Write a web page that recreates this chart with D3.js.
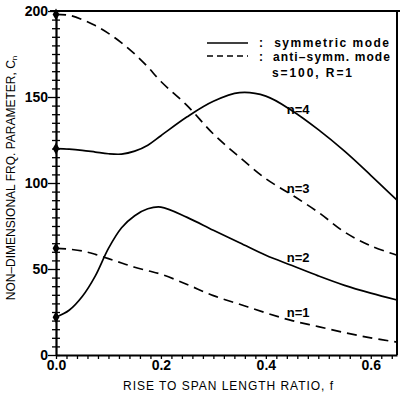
<!DOCTYPE html>
<html>
<head>
<meta charset="utf-8">
<script src="https://cdn.jsdelivr.net/npm/d3@7"></script>
<style>
  body { margin: 0; background: #fff; }
  svg { display: block; font-family: "Liberation Sans", Arial, sans-serif; }
  .tick-label { font-size: 14px; font-weight: bold; }
  .axis-title { font-size: 12px; }
  .legend-text { font-size: 12px; font-weight: bold; }
  .curve-label { font-size: 13px; font-weight: bold; }
</style>
</head>
<body>
<div id="chart"></div>
<script>
// rise-to-span ratio grid shared by all curves
const fGrid = [0, 0.025, 0.05, 0.075, 0.1, 0.125, 0.15, 0.175, 0.2, 0.25, 0.3, 0.35, 0.4, 0.45, 0.5, 0.55, 0.6, 0.65];

// symmetric modes (solid)
const symN2 = [22, 26, 34, 46, 62, 74, 81, 85, 86, 80, 72.5, 65.3, 58, 52, 46, 40.5, 36, 32];
const symN4 = [120, 119.7, 119, 118, 117, 116.8, 118.5, 122, 127.5, 138.5, 147.5, 152.5, 150.5, 142, 131, 118.5, 104.5, 90];

// anti-symmetric modes (dashed)
const antiN1 = [62, 61.5, 60.5, 58.5, 56, 53.5, 51, 49, 47, 41, 34.5, 29.5, 24.5, 20, 16.5, 13, 10, 7.5];
const antiN3 = [198, 197.5, 195, 191.5, 187, 181.5, 175, 167.5, 159, 145, 128.5, 115, 102.5, 93, 83, 71.5, 63.5, 58];

const curveLabels = [
  {text: 'n=4', f: 0.44, v: 143},
  {text: 'n=3', f: 0.44, v: 97},
  {text: 'n=2', f: 0.44, v: 57},
  {text: 'n=1', f: 0.44, v: 25}
];

const series = [
  {name: 'n=1', values: antiN1, dashed: true},
  {name: 'n=2', values: symN2, dashed: false},
  {name: 'n=3', values: antiN3, dashed: true},
  {name: 'n=4', values: symN4, dashed: false}
];

const width = 400, height = 398;
const margin = {top: 11, right: 3, bottom: 43, left: 56};
const innerW = width - margin.left - margin.right;
const innerH = height - margin.top - margin.bottom;

const svg = d3.select('#chart').append('svg')
  .attr('width', width)
  .attr('height', height);

const chart = svg.append('g')
  .attr('transform', `translate(${margin.left},${margin.top})`);

const x = d3.scaleLinear().domain([0, 0.65]).range([0, innerW]);
const y = d3.scaleLinear().domain([0, 200]).range([innerH, 0]);

// x axis: small ticks every 0.02, labels at 0.2 steps
const xTicks = d3.range(0, 0.65, 0.02).map(d => +d.toFixed(2));
const xAxisG = chart.append('g')
  .attr('transform', `translate(0,${innerH})`)
  .call(d3.axisBottom(x).tickValues(xTicks).tickSize(4).tickSizeOuter(0)
    .tickFormat(d => (Math.abs(d * 10 % 2) < 1e-6 ? d3.format('.1f')(d) : '')));
xAxisG.select('.domain').attr('stroke-width', 2);
xAxisG.selectAll('.tick line').attr('stroke-width', 1.3);
xAxisG.selectAll('.tick text').attr('class', 'tick-label').attr('dy', '0.55em');

// y axis: ticks every 5 crossing the axis, labels every 50
const yTicks = d3.range(0, 201, 5);
const yAxisG = chart.append('g')
  .call(d3.axisLeft(y).tickValues(yTicks).tickSize(4).tickSizeOuter(0)
    .tickFormat(d => (d % 50 === 0 ? d : '')));
yAxisG.select('.domain').attr('stroke-width', 2.2);
yAxisG.selectAll('.tick line')
  .attr('x1', 4)
  .attr('x2', d => (d % 50 === 0 ? -8 : -4))
  .attr('stroke-width', 1.3);
yAxisG.selectAll('.tick text').attr('class', 'tick-label').attr('x', -8);

// frame on top and right
chart.append('line')
  .attr('x1', -6).attr('x2', innerW + margin.right)
  .attr('y1', 0).attr('y2', 0)
  .attr('stroke', '#000').attr('stroke-width', 2.2);
chart.append('line')
  .attr('x1', innerW).attr('x2', innerW)
  .attr('y1', 0).attr('y2', innerH)
  .attr('stroke', '#000').attr('stroke-width', 2);

// curves
const line = d3.line()
  .x((d, i) => x(fGrid[i]))
  .y(d => y(d))
  .curve(d3.curveCatmullRom.alpha(0.5));

chart.selectAll('.curve')
  .data(series)
  .join('path')
  .attr('class', 'curve')
  .attr('fill', 'none')
  .attr('stroke', '#000')
  .attr('stroke-width', 1.7)
  .attr('stroke-dasharray', d => (d.dashed ? '10,6' : null))
  .attr('d', d => line(d.values));

// markers at f = 0
chart.selectAll('.marker')
  .data(series)
  .join('path')
  .attr('class', 'marker')
  .attr('transform', d => `translate(${x(0)},${y(d.values[0])})`)
  .attr('d', d3.symbol().type(d3.symbolDiamond).size(40))
  .attr('fill', '#000');

// curve labels
chart.selectAll('.curve-label')
  .data(curveLabels)
  .join('text')
  .attr('class', 'curve-label')
  .attr('x', d => x(d.f))
  .attr('y', d => y(d.v))
  .attr('dy', '0.35em')
  .text(d => d.text);

// legend
const legend = svg.append('g');
legend.append('line')
  .attr('x1', 207).attr('x2', 248).attr('y1', 43).attr('y2', 43)
  .attr('stroke', '#000').attr('stroke-width', 1.5);
legend.append('line')
  .attr('x1', 207).attr('x2', 248).attr('y1', 56).attr('y2', 56)
  .attr('stroke', '#000').attr('stroke-width', 1.5)
  .attr('stroke-dasharray', '6,4');
legend.append('text').attr('class', 'legend-text')
  .attr('x', 259).attr('y', 47).attr('textLength', 130)
  .attr('xml:space', 'preserve').text(':  symmetric mode');
legend.append('text').attr('class', 'legend-text')
  .attr('x', 259).attr('y', 61).attr('textLength', 131)
  .attr('xml:space', 'preserve').text(':  anti\u2013symm. mode');
legend.append('text').attr('class', 'legend-text')
  .attr('x', 272).attr('y', 77).attr('textLength', 80).text('s=100, R=1');

// axis titles
svg.append('text')
  .attr('class', 'axis-title')
  .attr('x', 228).attr('y', 390)
  .attr('text-anchor', 'middle')
  .attr('textLength', 210)
  .text('RISE TO SPAN LENGTH RATIO, f');

const yTitle = svg.append('text')
  .attr('class', 'axis-title')
  .attr('transform', 'translate(15,178) rotate(-90)')
  .attr('text-anchor', 'middle');
yTitle.append('tspan').text('NON\u2013DIMENSIONAL  FRQ.  PARAMETER,  C');
yTitle.append('tspan').attr('font-size', '8px').attr('dy', '2').text('n');
</script>
</body>
</html>
